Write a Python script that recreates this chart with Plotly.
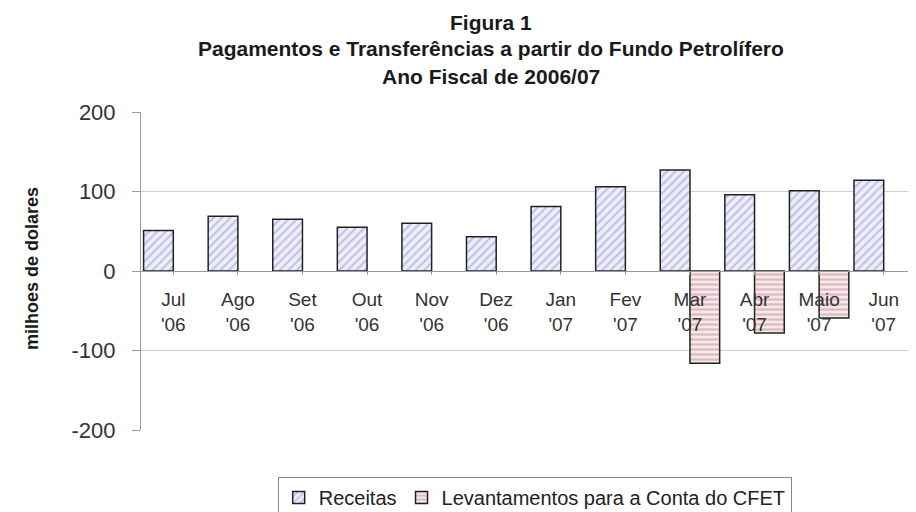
import plotly.graph_objects as go

categories = ["Jul<br>'06", "Ago<br>'06", "Set<br>'06", "Out<br>'06", "Nov<br>'06", "Dez<br>'06",
              "Jan<br>'07", "Fev<br>'07", "Mar<br>'07", "Abr<br>'07", "Maio<br>'07", "Jun<br>'07"]
receitas = [51, 69, 65, 55, 60, 43, 81, 106, 127, 96, 101, 114]
levantamentos = [None, None, None, None, None, None, None, None, -116, -78, -59, None]
y_ticks = [-200, -100, 0, 100, 200]
title_lines = ["Figura 1",
               "Pagamentos e Transferências a partir do Fundo Petrolífero",
               "Ano Fiscal de 2006/07"]

FONT = "Liberation Sans, Arial, sans-serif"
# the page body has an 8px default margin; compensate so the figure fills the 916x512 window
PAGE_MARGIN = 8

fig = go.Figure()
fig.add_trace(go.Bar(
    x=categories, y=receitas, name="Receitas",
    marker=dict(color="#ececf8", line=dict(color="#222222", width=1.5),
                pattern=dict(shape="/", fgcolor="#8e92d2", bgcolor="#eeeef9", size=6, solidity=0.35)),
))
fig.add_trace(go.Bar(
    x=categories, y=levantamentos, name="Levantamentos para a Conta do CFET",
    marker=dict(color="#f4e2e6", line=dict(color="#222222", width=1.5),
                pattern=dict(shape="-", fgcolor="#c086c0", bgcolor="#f6ebde", size=5, solidity=0.45)),
))

annotations = []
for text, py in zip(title_lines, [22, 49, 76]):
    annotations.append(dict(
        text="<b>%s</b>" % text, xref="paper", yref="paper",
        x=(491 - 141) / 775, y=(430 - py) / 318, xanchor="center", yanchor="middle",
        showarrow=False, font=dict(size=21, family=FONT, color="#1a1a1a"),
    ))
annotations.append(dict(
    text="<b>milhoes de dolares</b>", xref="paper", yref="paper",
    x=(32 - 141) / 775, y=(430 - 268) / 318, xanchor="center", yanchor="middle",
    textangle=-90, showarrow=False, font=dict(size=18, family=FONT, color="#1a1a1a"),
))

fig.update_layout(
    width=916 - PAGE_MARGIN, height=512 - PAGE_MARGIN,
    paper_bgcolor="white", plot_bgcolor="white",
    margin=dict(l=141 - PAGE_MARGIN, r=0, t=112 - PAGE_MARGIN, b=82, autoexpand=False),
    barmode="group", bargap=0.08, bargroupgap=0,
    font=dict(family=FONT, color="#222222"),
    annotations=annotations,
    showlegend=True,
    legend=dict(
        orientation="h", x=0.508, xanchor="center", y=-0.148, yanchor="top",
        bordercolor="#888888", borderwidth=1, font=dict(size=20, color="#222222"),
        traceorder="normal", itemwidth=30, tracegroupgap=0,
    ),
)
fig.update_xaxes(
    type="category", anchor="free", position=0.5,
    showline=True, linecolor="#999999", linewidth=1,
    ticks="outside", ticklen=3, tickcolor="#999999",
    ticklabelstandoff=8,
    tickfont=dict(size=19, color="#333333"),
    showgrid=False, fixedrange=True,
)
fig.update_yaxes(
    range=[-200, 200], tickvals=y_ticks, ticktext=[str(v) for v in y_ticks],
    showgrid=True, gridcolor="#cfcfcf", gridwidth=1,
    zeroline=False,
    showline=True, linecolor="#999999", linewidth=1,
    ticks="outside", ticklen=8, tickcolor="#999999",
    ticklabelstandoff=12,
    tickfont=dict(size=22, color="#333333"),
)

fig.write_html("out.html")
